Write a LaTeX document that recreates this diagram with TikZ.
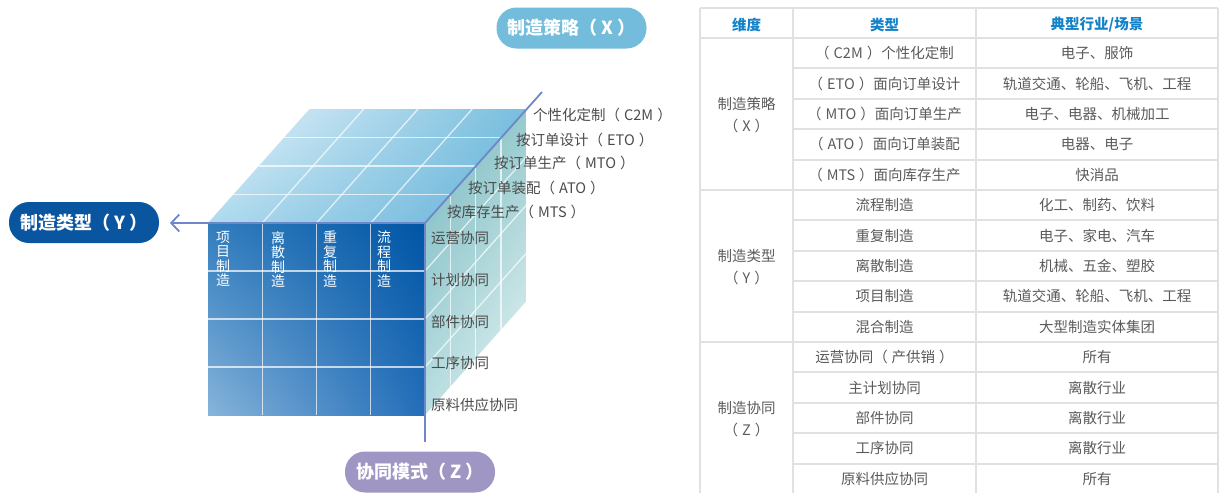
\documentclass[tikz,border=0pt]{standalone}
\usepackage{fontspec}
\setmainfont{Noto Sans CJK SC}
\usetikzlibrary{arrows.meta,shadings}
\newcommand\mylp{（\hspace{4pt}}
\newcommand\myrp{\hspace{4pt}）}
\definecolor{axisc}{RGB}{110,135,200}
\definecolor{pillx}{RGB}{115,188,220}
\definecolor{pilly}{RGB}{10,85,160}
\definecolor{pillz}{RGB}{160,150,195}
\definecolor{lblc}{RGB}{75,75,75}
\definecolor{tblline}{RGB}{225,225,225}
\definecolor{tbltext}{RGB}{90,90,90}
\definecolor{tblhead}{RGB}{20,130,200}
\definecolor{fUL}{RGB}{50,125,190}
\definecolor{fUR}{RGB}{0,85,165}
\definecolor{fLL}{RGB}{135,180,218}
\definecolor{fLR}{RGB}{35,110,185}
\definecolor{tUL}{RGB}{232,244,250}
\definecolor{tUR}{RGB}{120,190,222}
\definecolor{tLL}{RGB}{175,218,238}
\definecolor{tLR}{RGB}{100,178,216}
\definecolor{rUL}{RGB}{118,184,190}
\definecolor{rUR}{RGB}{150,202,206}
\definecolor{rLL}{RGB}{185,222,225}
\definecolor{rLR}{RGB}{235,246,246}
\tikzset{
  pill/.style={rectangle, rounded corners=20pt, minimum width=150pt, minimum height=41pt,
    text=white, inner sep=0pt, font=\fontsize{18}{20}\selectfont\bfseries},
  axisline/.style={draw=axisc, line width=1.8pt},
  gridline/.style={draw=white, line width=1.3pt, opacity=0.7},
  lbl/.style={anchor=west, inner sep=0pt, text=lblc, font=\fontsize{14.5}{16}\selectfont},
  coltxt/.style={anchor=north, inner sep=0pt, text=white, align=center, font=\fontsize{14}{14.5}\selectfont},
  tline/.style={draw=tblline, line width=2pt},
  tcell/.style={inner sep=0pt, text=tbltext, font=\fontsize{14.5}{16}\selectfont},
  thead/.style={inner sep=0pt, text=tblhead, font=\fontsize{14.5}{16}\selectfont\bfseries},
  tgroup/.style={inner sep=0pt, text=tbltext, align=center, font=\fontsize{14.5}{22}\selectfont},
}
\begin{document}
\begin{tikzpicture}[x=1pt,y=-1pt]
\useasboundingbox (0,0) rectangle (1219,493);
% ---- cube faces ----
\begin{scope}
  \clip (208,223) -- (425,223) -- (526.5,109) -- (309.5,109) -- cycle;
  \shade[upper left=tUL, upper right=tUR, lower left=tLL, lower right=tLR] (208,109) rectangle (526.5,223);
\end{scope}
\begin{scope}
  \clip (425,223) -- (526.5,109) -- (526.5,301) -- (425,415) -- cycle;
  \shade[upper left=rUL, upper right=rUR, lower left=rLL, lower right=rLR] (425,109) rectangle (526.5,415);
\end{scope}
\shade[upper left=fUL, upper right=fUR, lower left=fLL, lower right=fLR] (208,223) rectangle (425,415);
% ---- grid lines ----
\foreach \k in {1,2,3}{
  % front
  \draw[gridline] ({208+54.25*\k},223) -- ({208+54.25*\k},415);
  \draw[gridline] (208,{223+48*\k}) -- (425,{223+48*\k});
  % top
  \draw[gridline] ({208+25.375*\k},{223-28.5*\k}) -- ({425+25.375*\k},{223-28.5*\k});
  \draw[gridline] ({208+54.25*\k},223) -- ({309.5+54.25*\k},109);
  % right
  \draw[gridline] ({425+25.375*\k},{223-28.5*\k}) -- ({425+25.375*\k},{415-28.5*\k});
  \draw[gridline] (425,{223+48*\k}) -- (526.5,{109+48*\k});
}
% ---- axes ----
\coordinate (O) at (425,223);
\coordinate (xend) at (542,92);
\coordinate (yend) at (170,223);
\coordinate (zend) at (425,442);
\draw[axisline] (O) -- (xend);
\draw[axisline, -{Straight Barb[length=8pt,width=17pt,line width=1.8pt]}] (O) -- (yend);
\draw[axisline] (O) -- (zend);
% ---- pills ----
\node[pill, fill=pillx] (px) at (571.5,28) {制造策略\mylp X\myrp};
\node[pill, fill=pilly] (py) at (84,222.5) {制造类型\mylp Y\myrp};
\node[pill, fill=pillz] (pz) at (420,472) {协同模式\mylp Z\myrp};
% ---- strategy labels ----
\node[lbl] (s1) at (533,115) {个性化定制\mylp C2M\myrp};
\node[lbl] (s2) at (516,140) {按订单设计\mylp ETO\myrp};
\node[lbl] (s3) at (494,163) {按订单生产\mylp MTO\myrp};
\node[lbl] (s4) at (468,188) {按订单装配\mylp ATO\myrp};
\node[lbl] (s5) at (447,212) {按库存生产\mylp MTS\myrp};
% ---- collaboration labels ----
\node[lbl] (c1) at (431,238) {运营协同};
\node[lbl] (c2) at (431,280) {计划协同};
\node[lbl] (c3) at (431,322) {部件协同};
\node[lbl] (c4) at (431,363) {工序协同};
\node[lbl] (c5) at (431,405) {原料供应协同};
% ---- column labels ----
\node[coltxt] (m1) at (223,231) {项\\目\\制\\造};
\node[coltxt] (m2) at (278,231) {离\\散\\制\\造};
\node[coltxt] (m3) at (330,231) {重\\复\\制\\造};
\node[coltxt] (m4) at (384,231) {流\\程\\制\\造};
% ---- table ----
\draw[tline] (700,8) -- (1218,8);
\draw[tline] (700,38) -- (1218,38);
\foreach \x in {700,793,976,1218}{ \draw[tline] (\x,8) -- (\x,493); }
\foreach \k in {1,...,14}{ \draw[tline] (793,{38+30.4*\k}) -- (1218,{38+30.4*\k}); }
\draw[tline] (700,190) -- (793,190);
\draw[tline] (700,342) -- (793,342);
\node[thead] (h1) at (746.5,25) {维度};
\node[thead] (h2) at (884.5,25) {类型};
\node[thead] (h3) at (1097,25) {典型行业/场景};
\node[tgroup] (g1) at (746.5,115) {制造策略\\\mylp X\myrp};
\node[tgroup] (g2) at (746.5,267) {制造类型\\\mylp Y\myrp};
\node[tgroup] (g3) at (746.5,419) {制造协同\\\mylp Z\myrp};
\foreach \i/\a/\b in {
  0/\mylp C2M\myrp 个性化定制/电子、服饰,
  1/\mylp ETO\myrp 面向订单设计/轨道交通、轮船、飞机、工程,
  2/\mylp MTO\myrp 面向订单生产/电子、电器、机械加工,
  3/\mylp ATO\myrp 面向订单装配/电器、电子,
  4/\mylp MTS\myrp 面向库存生产/快消品,
  5/流程制造/化工、制药、饮料,
  6/重复制造/电子、家电、汽车,
  7/离散制造/机械、五金、塑胶,
  8/项目制造/轨道交通、轮船、飞机、工程,
  9/混合制造/大型制造实体集团,
  10/运营协同\mylp 产供销\myrp/所有,
  11/主计划协同/离散行业,
  12/部件协同/离散行业,
  13/工序协同/离散行业,
  14/原料供应协同/所有}{
  \node[tcell] (ta\i) at (884.5,{38+30.4*(\i+0.5)}) {\a};
  \node[tcell] (tb\i) at (1097,{38+30.4*(\i+0.5)}) {\b};
}
\end{tikzpicture}
\end{document}
